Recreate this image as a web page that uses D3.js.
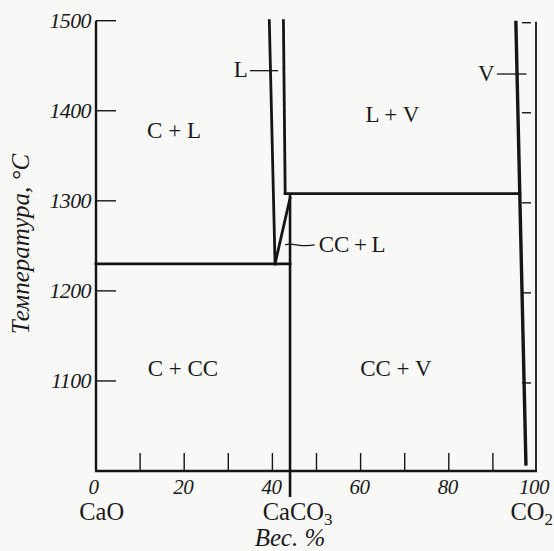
<!DOCTYPE html>
<html>
<head>
<meta charset="utf-8">
<script src="https://cdn.jsdelivr.net/npm/d3@7"></script>
<style>
  html, body { margin: 0; padding: 0; background: #f8f8f7; }
  svg { display: block; }
  text { font-family: "Liberation Serif", "DejaVu Serif", serif; fill: #1a1a1a; }
</style>
</head>
<body>
<svg id="chart" width="554" height="551"></svg>
<script>
// ---- data ----
const xTicks = [10, 20, 30, 40, 50, 60, 70, 80, 90];
const xTickLabels = [0, 20, 40, 60, 80, 100];
const yTicks = [1100, 1200, 1300, 1400, 1500];
const compoundNames = ["CaO", "CaCO", "CO"];
const compoundSubs = ["", "3", "2"];
const compoundX = [0, 44, 100];

// phase boundaries: [wt% CO2, temperature °C]
const eutecticLine = [[0, 1230], [44, 1230]];
const upperIsotherm = [[42.9, 1308], [96.1, 1308]];
const caco3Line = [[44, 1308], [44, 971]];
const liquidLeft = [[39.3, 1500], [40.6, 1230]];
const liquidRight = [[42.5, 1500], [42.9, 1308]];
const ccLiquidus = [[40.6, 1230], [44.0, 1303]];
const vaporLine = [[95.2, 1500], [97.5, 1006]];

const regionLabels = ["C + L", "L + V", "C + CC", "CC + V"];
const regionX = [17.7, 67.2, 19.7, 68.0];
const regionT = [1370, 1387, 1105, 1105];

// ---- drawing ----
const svg = d3.select("#chart");
const x = d3.scaleLinear().domain([0, 100]).range([96, 537]);
const y = d3.scaleLinear().domain([1000, 1500]).range([471, 20.7]);
const ink = "#151515";

// axes frame
svg.append("line").attr("x1", x(0)).attr("x2", x(0)).attr("y1", y(1500)).attr("y2", y(1000))
  .attr("stroke", ink).attr("stroke-width", 2.4);
svg.append("line").attr("x1", 536).attr("x2", 536).attr("y1", y(1500) + 1).attr("y2", y(1000))
  .attr("stroke", ink).attr("stroke-width", 1.8);
svg.append("line").attr("x1", x(0) - 1).attr("x2", 537).attr("y1", y(1000)).attr("y2", y(1000))
  .attr("stroke", ink).attr("stroke-width", 2.4);

// left ticks (inward)
svg.selectAll(".ytl").data(yTicks).join("line")
  .attr("x1", x(0)).attr("x2", x(0) + 20)
  .attr("y1", d => y(d)).attr("y2", d => y(d))
  .attr("stroke", ink).attr("stroke-width", 1.4);
// right ticks
svg.selectAll(".ytr").data(yTicks).join("line")
  .attr("x1", 522).attr("x2", 531)
  .attr("y1", d => y(d) + 2).attr("y2", d => y(d) + 2)
  .attr("stroke", ink).attr("stroke-width", 1.4);
// y tick labels
svg.selectAll(".ylab").data(yTicks).join("text")
  .attr("x", 91).attr("y", d => y(d) + 7)
  .attr("text-anchor", "end")
  .attr("font-size", 22).attr("font-style", "italic")
  .attr("letter-spacing", -0.6)
  .text(d => d);

// bottom ticks (inward)
svg.selectAll(".xt").data(xTicks).join("line")
  .attr("x1", d => x(d)).attr("x2", d => x(d))
  .attr("y1", y(1000)).attr("y2", y(1000) - 18)
  .attr("stroke", ink).attr("stroke-width", 1.4);
svg.selectAll(".xlab").data(xTickLabels).join("text")
  .attr("x", d => d === 0 ? x(d) - 2.5 : (d === 100 ? x(d) - 3 : x(d) - 1))
  .attr("y", 494)
  .attr("text-anchor", "middle")
  .attr("font-size", 21).attr("font-style", "italic")
  .attr("letter-spacing", -0.5)
  .text(d => d);

// compound labels
const compAnchor = ["middle", "start", "start"];
const compDx = [5.7, -27.3, -26.5];
compoundNames.forEach((n, i) => {
  const t = svg.append("text")
    .attr("x", x(compoundX[i]) + compDx[i]).attr("y", 520)
    .attr("text-anchor", compAnchor[i])
    .attr("font-size", 24.5);
  t.append("tspan").text(n);
  if (compoundSubs[i]) {
    t.append("tspan").attr("font-size", 17).attr("dy", 5).text(compoundSubs[i]);
  }
});

// axis titles
svg.append("text").attr("x", 290).attr("y", 546)
  .attr("text-anchor", "middle").attr("font-size", 25).attr("font-style", "italic")
  .text("Вес. %");
svg.append("text")
  .attr("transform", "translate(29,244) rotate(-90)")
  .attr("text-anchor", "middle").attr("font-size", 25).attr("font-style", "italic")
  .text("Температура, °C");

// phase lines
const line = d3.line().x(d => x(d[0])).y(d => y(d[1]));
const thick = [eutecticLine, upperIsotherm, liquidLeft, liquidRight, ccLiquidus];
thick.forEach(pts => {
  svg.append("path").attr("d", line(pts)).attr("fill", "none")
    .attr("stroke", ink).attr("stroke-width", 2.8).attr("stroke-linecap", "square");
});
svg.append("path").attr("d", line(caco3Line)).attr("fill", "none")
  .attr("stroke", ink).attr("stroke-width", 2.6);
svg.append("path").attr("d", line(vaporLine)).attr("fill", "none")
  .attr("stroke", ink).attr("stroke-width", 3.4);

// region labels
regionLabels.forEach((lab, i) => {
  svg.append("text").attr("x", x(regionX[i])).attr("y", y(regionT[i]))
    .attr("text-anchor", "middle").attr("font-size", 23)
    .text(lab);
});

// pointer labels
// L
svg.append("line").attr("x1", x(34.9)).attr("x2", x(41.3))
  .attr("y1", y(1444.5)).attr("y2", y(1444.5)).attr("stroke", ink).attr("stroke-width", 1.3);
svg.append("text").attr("x", x(34.4)).attr("y", y(1437)).attr("text-anchor", "end")
  .attr("font-size", 23).text("L");
// V
svg.append("line").attr("x1", x(90.9)).attr("x2", x(97.6))
  .attr("y1", y(1440.8)).attr("y2", y(1440.8)).attr("stroke", ink).attr("stroke-width", 1.3);
svg.append("text").attr("x", x(90.4)).attr("y", y(1433)).attr("text-anchor", "end")
  .attr("font-size", 23).text("V");
// CC + L
const x0 = x(42.9), x1 = x(49.6), yl = y(1251);
svg.append("path")
  .attr("d", `M${x0},${yl} C${x0 + 8},${yl - 3} ${x0 + 14},${yl + 3} ${x1},${yl}`)
  .attr("fill", "none").attr("stroke", ink).attr("stroke-width", 1.3);
svg.append("text").attr("x", x(50.5)).attr("y", y(1251) + 7)
  .attr("font-size", 23).text("CC\u2009+\u2009L");
</script>
</body>
</html>
